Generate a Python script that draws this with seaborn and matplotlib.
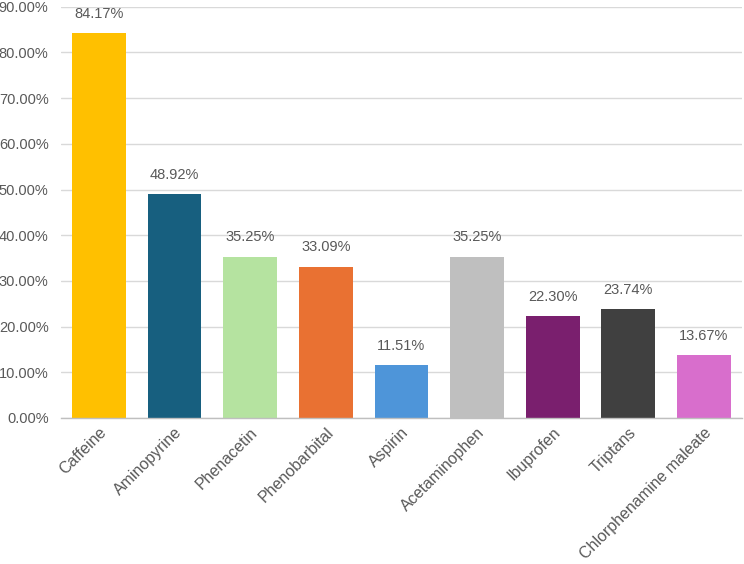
import matplotlib

matplotlib.use("Agg")
import matplotlib.pyplot as plt
import pandas as pd
import seaborn as sns
from matplotlib.ticker import FuncFormatter

drugs = [
    "Caffeine", "Aminopyrine", "Phenacetin", "Phenobarbital", "Aspirin",
    "Acetaminophen", "Ibuprofen", "Triptans", "Chlorphenamine maleate",
]
shares = [84.17, 48.92, 35.25, 33.09, 11.51, 35.25, 22.30, 23.74, 13.67]
colors = ["#FFC000", "#175F7F", "#B5E3A0", "#E97132", "#4E95D9",
          "#BFBFBF", "#7A1F6E", "#404040", "#D86ECC"]

sns.set_style("white")
plt.rcParams["font.family"] = ["Liberation Sans", "DejaVu Sans"]
text_grey = "#595959"

df = pd.DataFrame({"drug": drugs, "share": shares})

fig = plt.figure(figsize=(7.44, 5.64), dpi=100)
ax = fig.add_axes([0.082, 0.259, 0.915, 0.729])
sns.barplot(data=df, x="drug", y="share", hue="drug", palette=colors,
            legend=False, width=0.71, saturation=1, linewidth=0, ax=ax)

ax.set_ylim(0, 90)
ax.set_yticks(range(0, 91, 10))
ax.yaxis.set_major_formatter(FuncFormatter(lambda v, _: f"{v:.2f}%"))
ax.grid(axis="y", color="#D9D9D9", linewidth=1)
ax.set_axisbelow(True)
for side in ["left", "right", "top"]:
    ax.spines[side].set_visible(False)
ax.spines["bottom"].set_color("#BFBFBF")
ax.spines["bottom"].set_linewidth(1)

ax.set_xlabel("")
ax.set_ylabel("")
ax.tick_params(axis="both", length=0, colors=text_grey)
ax.tick_params(axis="y", pad=9, labelsize=10.5)
ax.tick_params(axis="x", pad=5, labelsize=11.5)
plt.setp(ax.get_xticklabels(), rotation=45, ha="right", rotation_mode="anchor")

for i, v in enumerate(shares):
    ax.annotate(f"{v:.2f}%", (i, v), textcoords="offset points", xytext=(0, 9),
                ha="center", va="bottom", fontsize=10.5, color=text_grey)

plt.savefig("out.png", dpi=100)
plt.close()
